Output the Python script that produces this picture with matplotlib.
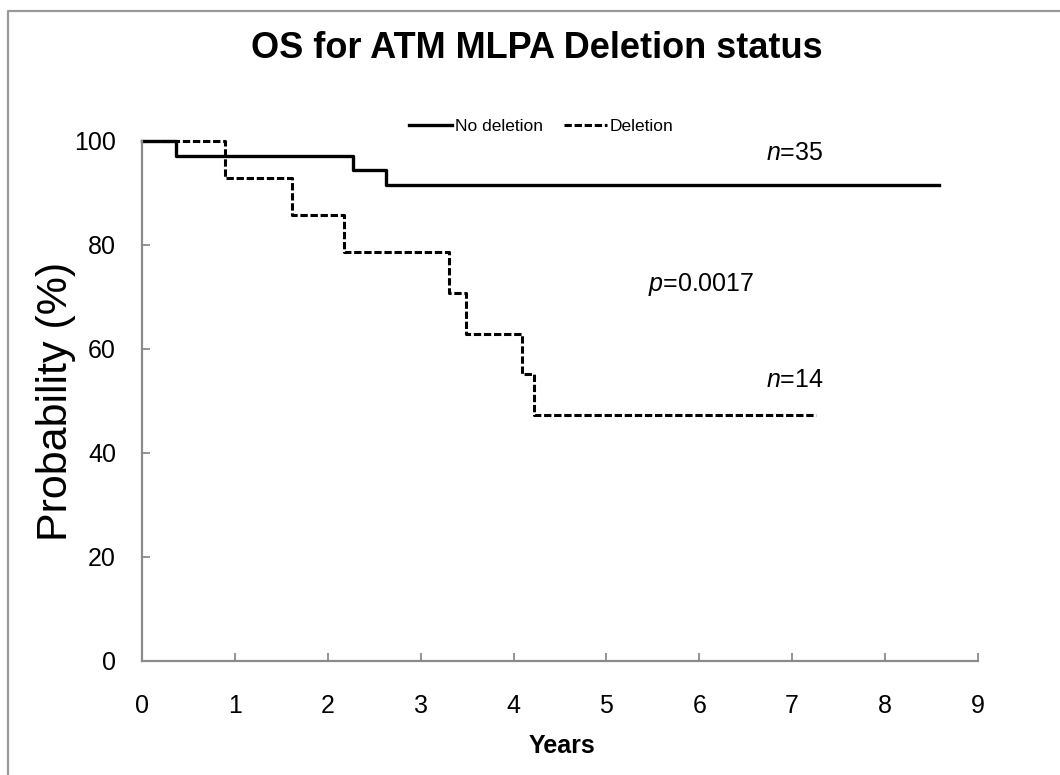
import matplotlib
matplotlib.use("Agg")
import matplotlib.pyplot as plt
from matplotlib.lines import Line2D

plt.rcParams['font.family'] = ['Liberation Sans', 'DejaVu Sans']
plt.rcParams['mathtext.fontset'] = 'custom'
plt.rcParams['mathtext.it'] = 'Liberation Sans:italic'
plt.rcParams['mathtext.rm'] = 'Liberation Sans'

# Kaplan-Meier steps (years, survival %)
nodel_years = [0, 0.36, 2.27, 2.63, 8.58]
nodel_surv = [100, 97.1, 94.3, 91.4, 91.4]
del_years = [0, 0.89, 1.61, 2.17, 3.30, 3.49, 4.09, 4.22, 7.26]
del_surv = [100, 92.9, 85.7, 78.6, 70.8, 62.9, 55.1, 47.3, 47.3]

x_ticks = [0, 1, 2, 3, 4, 5, 6, 7, 8, 9]
y_ticks = [0, 20, 40, 60, 80, 100]

W, H = 1060, 775
fig = plt.figure(figsize=(W / 100, H / 100), dpi=100)
ax = fig.add_axes([142.3 / W, 1 - 661 / H, (977.7 - 142.3) / W, (661 - 140.7) / H])

ax.step(del_years, del_surv, where="post", color="black", lw=2.2,
        dashes=(2.4, 0.9), clip_on=False, label="Deletion")
ax.step(nodel_years, nodel_surv, where="post", color="black", lw=2.4,
        clip_on=False, label="No deletion")

ax.set_xlim(0, 9)
ax.set_ylim(0, 100)
ax.set_xticks(x_ticks)
ax.set_yticks(y_ticks)
for s in ["top", "right"]:
    ax.spines[s].set_visible(False)
for s in ["left", "bottom"]:
    ax.spines[s].set_color("#8a8a8a")
    ax.spines[s].set_linewidth(1.6)
ax.tick_params(axis="both", direction="in", length=6, width=1.3,
               color="#8a8a8a", labelsize=18)
ax.tick_params(axis="x", pad=24)
ax.tick_params(axis="y", pad=19)

# legend (solid first, as in the original)
h, l = ax.get_legend_handles_labels()
ax.legend(h[::-1], l[::-1], ncol=2, frameon=False, fontsize=12.5,
          loc="center", bbox_to_anchor=((541 - 142.3) / (977.7 - 142.3), (661 - 126) / (661 - 140.7)),
          handlelength=2.5, handletextpad=0.15, columnspacing=1.2,
          borderaxespad=0, borderpad=0)

ax.text(7.03, 97.7, "$n$=35", fontsize=18, ha="center", va="center")
ax.text(7.03, 54.0, "$n$=14", fontsize=18, ha="center", va="center")
ax.text(6.02, 72.3, "$p$=0.0017", fontsize=18, ha="center", va="center")

fig.text(537 / W, 1 - 48 / H, "OS for ATM MLPA Deletion status",
         fontsize=26, fontweight="bold", ha="center", va="center")
fig.text(562 / W, 1 - 746 / H, "Years", fontsize=18, fontweight="bold",
         ha="center", va="center")
fig.text(56 / W, 1 - 401 / H, "Probability (%)", fontsize=31, rotation=90,
         ha="center", va="center")

# outer chart frame (only left and top edges are visible)
fig.add_artist(Line2D([8 / W, 8 / W, 1.0], [0.0, 1 - 11 / H, 1 - 11 / H],
                      transform=fig.transFigure, color="#9a9a9a", lw=1.6))

fig.savefig("out.png", dpi=100)
